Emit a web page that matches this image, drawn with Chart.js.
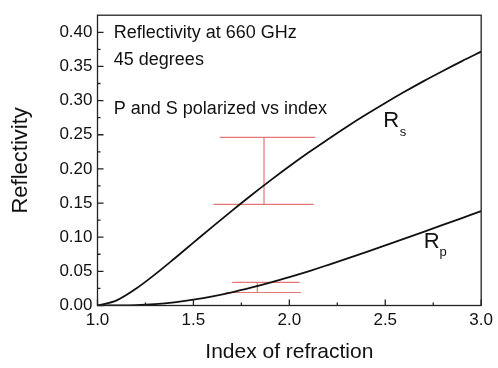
<!DOCTYPE html>
<html>
<head>
<meta charset="utf-8">
<script src="https://cdn.jsdelivr.net/npm/chart.js@4.4.1/dist/chart.umd.min.js"></script>
<style>
  html, body { margin: 0; padding: 0; background: #fff; }
  #wrap { width: 498px; height: 368px; }
</style>
</head>
<body>
<div id="wrap"><canvas id="reflChart" width="498" height="368"></canvas></div>
<script>
// values
const indexValues = [1.0, 1.1, 1.2, 1.3, 1.4, 1.5, 1.6, 1.7, 1.8, 1.9, 2.0,
                     2.1, 2.2, 2.3, 2.4, 2.5, 2.6, 2.7, 2.8, 2.9, 3.0];
const rsValues = [0.0000, 0.0076, 0.0245, 0.0456, 0.0685, 0.0920, 0.1155, 0.1386, 0.1611, 0.1828, 0.2038,
                  0.2239, 0.2432, 0.2618, 0.2795, 0.2965, 0.3128, 0.3285, 0.3434, 0.3578, 0.3716];
const rpValues = [0.0000, 0.0001, 0.0006, 0.0021, 0.0047, 0.0085, 0.0133, 0.0192, 0.0260, 0.0334, 0.0415,
                  0.0501, 0.0592, 0.0685, 0.0781, 0.0879, 0.0978, 0.1079, 0.1179, 0.1280, 0.1381];

// measured error bars
const barCenters = [1.868, 1.833];
const barLows = [0.148, 0.019];
const barHighs = [0.246, 0.034];
const capTopFrom = [1.638, 1.702];
const capTopTo = [2.135, 2.053];
const capBottomFrom = [1.604, 1.669];
const capBottomTo = [2.127, 2.060];

const yTicks = [0, 0.05, 0.10, 0.15, 0.20, 0.25, 0.30, 0.35, 0.40];
const xTicks = [1.0, 1.5, 2.0, 2.5, 3.0];

const notes = [
    { text: 'Reflectivity at 660 GHz', x: 1.085, y: 0.399 },
    { text: '45 degrees', x: 1.085, y: 0.360 },
    { text: 'P and S polarized vs index', x: 1.085, y: 0.288 }
];

const FONT = '"Liberation Sans", Arial, sans-serif';
const BAR_COLOR = 'rgb(230,118,118)';

function toPoints(xs, ys) {
    return xs.map((x, i) => ({ x: x, y: ys[i] }));
}

function segment(x1, y1, x2, y2) {
    return {
        data: [{ x: x1, y: y1 }, { x: x2, y: y2 }],
        borderColor: BAR_COLOR,
        borderWidth: 1.2,
        pointRadius: 0,
        tension: 0
    };
}

const datasets = [
    {
        label: 'Rs',
        data: toPoints(indexValues, rsValues),
        borderColor: '#111',
        borderWidth: 1.8,
        pointRadius: 0,
        cubicInterpolationMode: 'monotone'
    },
    {
        label: 'Rp',
        data: toPoints(indexValues, rpValues),
        borderColor: '#111',
        borderWidth: 1.8,
        pointRadius: 0,
        cubicInterpolationMode: 'monotone'
    }
];

barCenters.forEach((c, i) => {
    datasets.push(segment(capTopFrom[i], barHighs[i], capTopTo[i], barHighs[i]));
    datasets.push(segment(capBottomFrom[i], barLows[i], capBottomTo[i], barLows[i]));
    datasets.push(segment(c, barLows[i], c, barHighs[i]));
});

// frame, inward ticks and text labels
const framePlugin = {
    id: 'frame',
    afterDatasetsDraw(chart) {
        const { ctx, chartArea: a, scales: { x, y } } = chart;
        ctx.save();
        ctx.strokeStyle = '#222';
        ctx.lineWidth = 1.3;
        ctx.strokeRect(a.left, a.top, a.right - a.left, a.bottom - a.top);

        ctx.beginPath();
        for (let v = 0; v <= 0.42; v += 0.025) {
            const py = y.getPixelForValue(v);
            const major = Math.abs(v / 0.05 - Math.round(v / 0.05)) < 1e-6;
            ctx.moveTo(a.left, py);
            ctx.lineTo(a.left + (major ? 6 : 3), py);
        }
        for (let v = 1.0; v <= 3.0001; v += 0.25) {
            const px = x.getPixelForValue(v);
            const major = Math.abs(v / 0.5 - Math.round(v / 0.5)) < 1e-6;
            ctx.moveTo(px, a.bottom);
            ctx.lineTo(px, a.bottom - (major ? 6 : 3));
        }
        ctx.stroke();

        ctx.fillStyle = '#111';
        ctx.textBaseline = 'middle';
        ctx.textAlign = 'left';
        ctx.font = '18px ' + FONT;
        notes.forEach(n => {
            ctx.fillText(n.text, x.getPixelForValue(n.x), y.getPixelForValue(n.y));
        });

        ctx.font = '22px ' + FONT;
        ctx.fillText('R', x.getPixelForValue(2.49), y.getPixelForValue(0.270));
        ctx.fillText('R', x.getPixelForValue(2.70), y.getPixelForValue(0.093));
        ctx.font = '13px ' + FONT;
        ctx.fillText('s', x.getPixelForValue(2.575), y.getPixelForValue(0.253));
        ctx.fillText('p', x.getPixelForValue(2.783), y.getPixelForValue(0.077));
        ctx.restore();
    }
};

new Chart(document.getElementById('reflChart'), {
    type: 'line',
    data: { datasets: datasets },
    options: {
        responsive: false,
        animation: false,
        devicePixelRatio: 1,
        layout: { padding: { left: 0, right: 15, top: 6, bottom: 0 } },
        plugins: {
            legend: { display: false },
            tooltip: { enabled: false }
        },
        scales: {
            x: {
                type: 'linear',
                min: 1.0,
                max: 3.0,
                afterFit(scale) { scale.height = 62.5; },
                afterBuildTicks(scale) { scale.ticks = xTicks.map(v => ({ value: v })); },
                grid: { display: false, drawTicks: false },
                border: { display: false },
                ticks: {
                    padding: 5,
                    color: '#111',
                    font: { family: FONT, size: 17 },
                    callback: v => v.toFixed(1)
                },
                title: {
                    display: true,
                    text: 'Index of refraction',
                    color: '#111',
                    font: { family: FONT, size: 21 },
                    padding: { top: 0, bottom: 3 }
                }
            },
            y: {
                type: 'linear',
                min: 0,
                max: 0.425,
                afterFit(scale) { scale.width = 97.5; },
                afterBuildTicks(scale) { scale.ticks = yTicks.map(v => ({ value: v })); },
                grid: { display: false, drawTicks: false },
                border: { display: false },
                ticks: {
                    padding: 5,
                    color: '#111',
                    font: { family: FONT, size: 17 },
                    callback: v => v.toFixed(2)
                },
                title: {
                    display: true,
                    text: 'Reflectivity',
                    color: '#111',
                    font: { family: FONT, size: 22 },
                    padding: { top: 8, bottom: 0 }
                }
            }
        }
    },
    plugins: [framePlugin]
});
</script>
</body>
</html>
